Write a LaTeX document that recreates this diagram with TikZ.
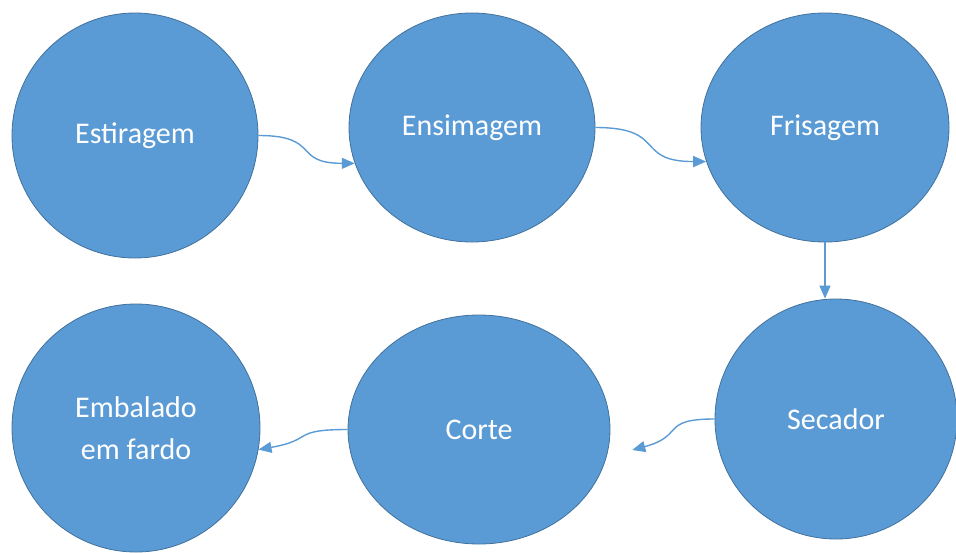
\documentclass[tikz,border=0pt]{standalone}
\usepackage{fontspec}
\setmainfont{Carlito}
\usepackage{tikz}
\usetikzlibrary{shapes}
\usetikzlibrary{arrows.meta}
\definecolor{stageblue}{HTML}{5B9BD5}
\definecolor{stageedge}{HTML}{41719C}
\tikzset{
    stage/.style={ellipse, fill=stageblue, draw=stageedge, line width=0.8pt, text=white, align=center, inner sep=0pt, font=\fontsize{30}{42}\selectfont},
    flow/.style={draw=stageblue, line width=1.4pt, -{Triangle[length=13pt,width=11pt]}}
}

\begin{document}
\begin{tikzpicture}[x=1pt,y=-1pt]
    \useasboundingbox (0,0) rectangle (956,552);
    % Top row
    \node[stage, minimum width=246pt, minimum height=245pt] (est) at (135,135.5) {Estiragem};
    \node[stage, minimum width=246pt, minimum height=229pt] (ens) at (472,127.5) {Ensimagem};
    \node[stage, minimum width=248pt, minimum height=229pt] (fri) at (825,127.5) {Frisagem};
    % Bottom row
    \node[stage, minimum width=242pt, minimum height=240pt] (sec) at (836,419) {Secador};
    \node[stage, minimum width=262pt, minimum height=229pt] (cor) at (479,429.5) {Corte};
    \node[stage, minimum width=248pt, minimum height=248pt] (emb) at (136,428) {Embalado\\em fardo};
    % Free end beside Corte
    \coordinate (corin) at ([xshift=24pt]cor.-9);
    % Flow
    \draw[flow] (est.east) to[out=0,in=180,looseness=1.6] (ens.197);
    \draw[flow] (ens.east) to[out=0,in=180,looseness=1.6] (fri.196);
    \draw[flow] (fri.south) -- (fri.south |- sec.north);
    \draw[flow] (sec.west) to[out=180,in=15,looseness=1.6] (corin);
    \draw[flow] (cor.west) to[out=180,in=10,looseness=1.6] (emb.-10);
\end{tikzpicture}
\end{document}
